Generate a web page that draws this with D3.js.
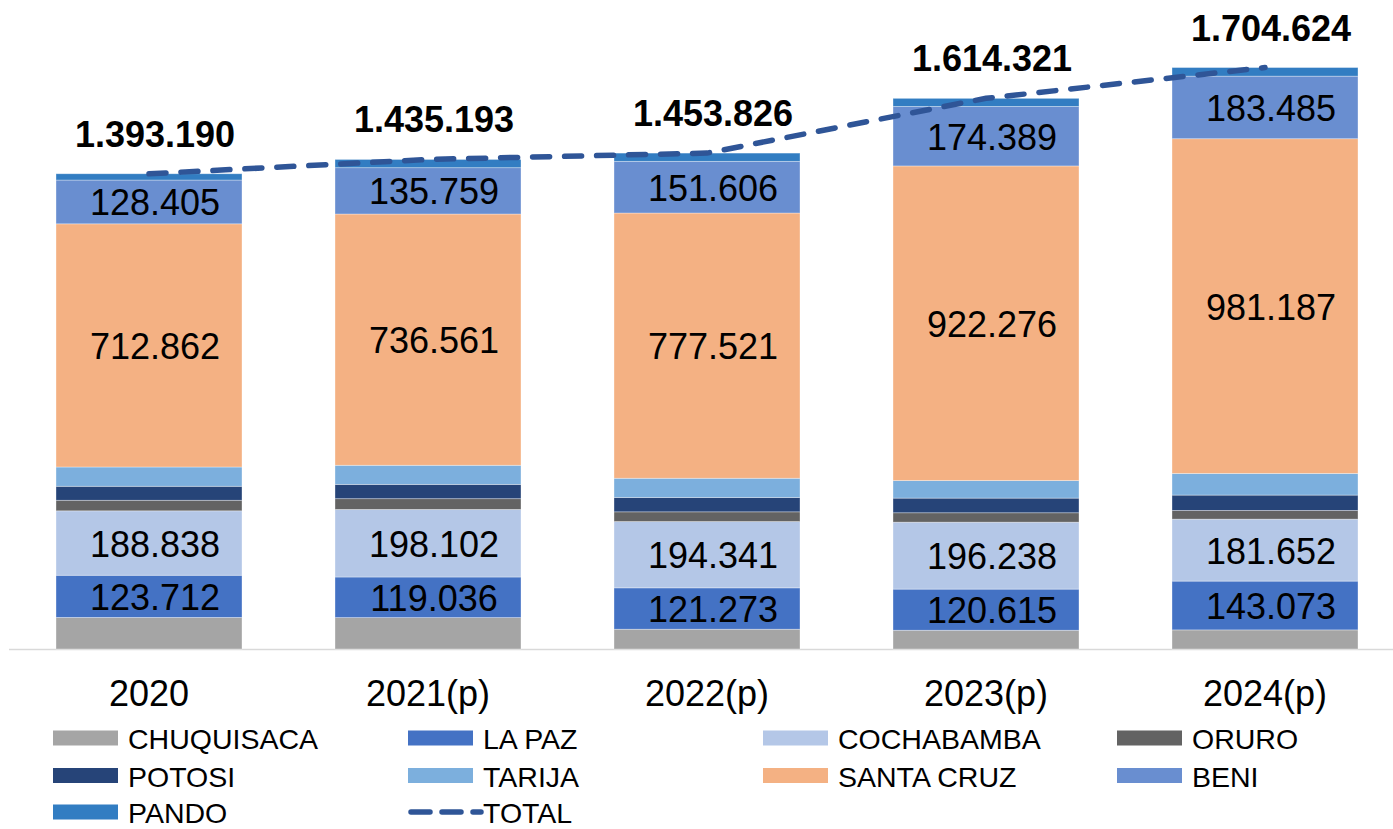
<!DOCTYPE html>
<html>
<head>
<meta charset="utf-8">
<script src="https://cdn.jsdelivr.net/npm/d3@7"></script>
<style>
  body { margin: 0; background: #fff; }
  svg { display: block; font-family: "Liberation Sans", Arial, sans-serif; }
</style>
</head>
<body>
<script>
var categories = ["2020", "2021(p)", "2022(p)", "2023(p)", "2024(p)"];

var chuquisaca = [92500, 92000, 58000, 55000, 56000];
var laPaz      = [123712, 119036, 121273, 120615, 143073];
var cochabamba = [188838, 198102, 194341, 196238, 181652];
var oruro      = [31000, 31500, 28500, 27500, 25500];
var potosi     = [41000, 42000, 42000, 43000, 45000];
var tarija     = [56500, 56000, 56500, 51500, 63500];
var santaCruz  = [712862, 736561, 777521, 922276, 981187];
var beni       = [128405, 135759, 151606, 174389, 183485];
var pando      = [18373, 24235, 24085, 23803, 25227];
var total      = [1393190, 1435193, 1453826, 1614321, 1704624];

var series = [
  {name: "CHUQUISACA", values: chuquisaca, color: "#a5a5a5", label: false},
  {name: "LA PAZ",     values: laPaz,      color: "#4472c4", label: true},
  {name: "COCHABAMBA", values: cochabamba, color: "#b4c7e7", label: true},
  {name: "ORURO",      values: oruro,      color: "#636363", label: false},
  {name: "POTOSI",     values: potosi,     color: "#264478", label: false},
  {name: "TARIJA",     values: tarija,     color: "#7cafdd", label: false},
  {name: "SANTA CRUZ", values: santaCruz,  color: "#f4b183", label: true},
  {name: "BENI",       values: beni,       color: "#698ed0", label: true},
  {name: "PANDO",      values: pando,      color: "#327dc2", label: false}
];

var W = 1393, H = 829;
var svg = d3.select("body").append("svg").attr("width", W).attr("height", H);

var fmt = d3.formatLocale({decimal: ",", thousands: ".", grouping: [3], currency: ["", ""]}).format(",d");

var x = d3.scaleBand()
    .domain(categories)
    .range([9.5, 1404.5])
    .paddingInner(1 / 3)
    .paddingOuter(1 / 6);

var y = d3.scaleLinear()
    .domain([0, 1800000])
    .range([649, 35]);

// build rows for the stack
var rows = categories.map(function(c, i) {
  var r = {cat: c};
  series.forEach(function(s) { r[s.name] = s.values[i]; });
  return r;
});

var stack = d3.stack().keys(series.map(function(s) { return s.name; }));
var stacked = stack(rows);

// axis line
svg.append("line")
    .attr("x1", 9).attr("x2", W)
    .attr("y1", y(0) + 0.5).attr("y2", y(0) + 0.5)
    .attr("stroke", "#d9d9d9").attr("stroke-width", 1.5);

var layers = svg.selectAll("g.layer")
  .data(stacked)
  .enter().append("g")
    .attr("class", "layer")
    .attr("fill", function(d, i) { return series[i].color; });

layers.selectAll("rect")
  .data(function(d) { return d; })
  .enter().append("rect")
    .attr("x", function(d) { return x(d.data.cat); })
    .attr("width", x.bandwidth())
    .attr("y", function(d) { return y(d[1]); })
    .attr("height", function(d) { return y(d[0]) - y(d[1]); })
    .attr("stroke", "#ffffff")
    .attr("stroke-opacity", 0.45)
    .attr("stroke-width", 0.75);

// segment labels
stacked.forEach(function(layer, i) {
  if (!series[i].label) return;
  svg.append("g").selectAll("text")
    .data(layer)
    .enter().append("text")
      .attr("x", function(d) { return x(d.data.cat) + x.bandwidth() / 2 + 6; })
      .attr("y", function(d) { return (y(d[0]) + y(d[1])) / 2 + 1; })
      .attr("text-anchor", "middle")
      .attr("dominant-baseline", "central")
      .attr("font-size", 36)
      .attr("fill", "#000")
      .text(function(d) { return fmt(d[1] - d[0]); });
});

// total line
var line = d3.line()
    .x(function(d, i) { return x(categories[i]) + x.bandwidth() / 2; })
    .y(function(d) { return y(d); });

svg.append("path")
    .datum(total)
    .attr("fill", "none")
    .attr("stroke", "#2f5597")
    .attr("stroke-width", 5.5)
    .attr("stroke-linecap", "round")
    .attr("stroke-dasharray", "17,15")
    .attr("d", line);

svg.append("g").selectAll("text")
  .data(total)
  .enter().append("text")
    .attr("x", function(d, i) { return x(categories[i]) + x.bandwidth() / 2 + 6; })
    .attr("y", function(d) { return y(d) - 27; })
    .attr("text-anchor", "middle")
    .attr("font-size", 36)
    .attr("font-weight", "bold")
    .attr("fill", "#000")
    .text(function(d) { return fmt(d); });

// category labels
svg.append("g").selectAll("text")
  .data(categories)
  .enter().append("text")
    .attr("x", function(d) { return x(d) + x.bandwidth() / 2; })
    .attr("y", 706)
    .attr("text-anchor", "middle")
    .attr("font-size", 36)
    .attr("fill", "#000")
    .text(function(d) { return d; });

// legend
var legendItems = series.map(function(s) { return {name: s.name, color: s.color, type: "rect"}; });
legendItems.push({name: "TOTAL", color: "#2f5597", type: "line"});

var colX = [53, 408, 763, 1117];
var rowY = [738, 775.5, 812];

var leg = svg.append("g").selectAll("g")
  .data(legendItems)
  .enter().append("g")
    .attr("transform", function(d, i) {
      return "translate(" + colX[i % 4] + "," + rowY[Math.floor(i / 4)] + ")";
    });

leg.filter(function(d) { return d.type === "rect"; })
  .append("rect")
    .attr("x", 0).attr("y", -7.5)
    .attr("width", 65).attr("height", 15)
    .attr("fill", function(d) { return d.color; });

leg.filter(function(d) { return d.type === "line"; })
  .append("line")
    .attr("x1", 3).attr("x2", 73)
    .attr("y1", 0).attr("y2", 0)
    .attr("stroke", function(d) { return d.color; })
    .attr("stroke-width", 5.5)
    .attr("stroke-linecap", "round")
    .attr("stroke-dasharray", "19,12");

leg.append("text")
    .attr("x", 75)
    .attr("y", 1)
    .attr("dominant-baseline", "central")
    .attr("font-size", 28.5)
    .attr("fill", "#000")
    .text(function(d) { return d.name; });
</script>
</body>
</html>
